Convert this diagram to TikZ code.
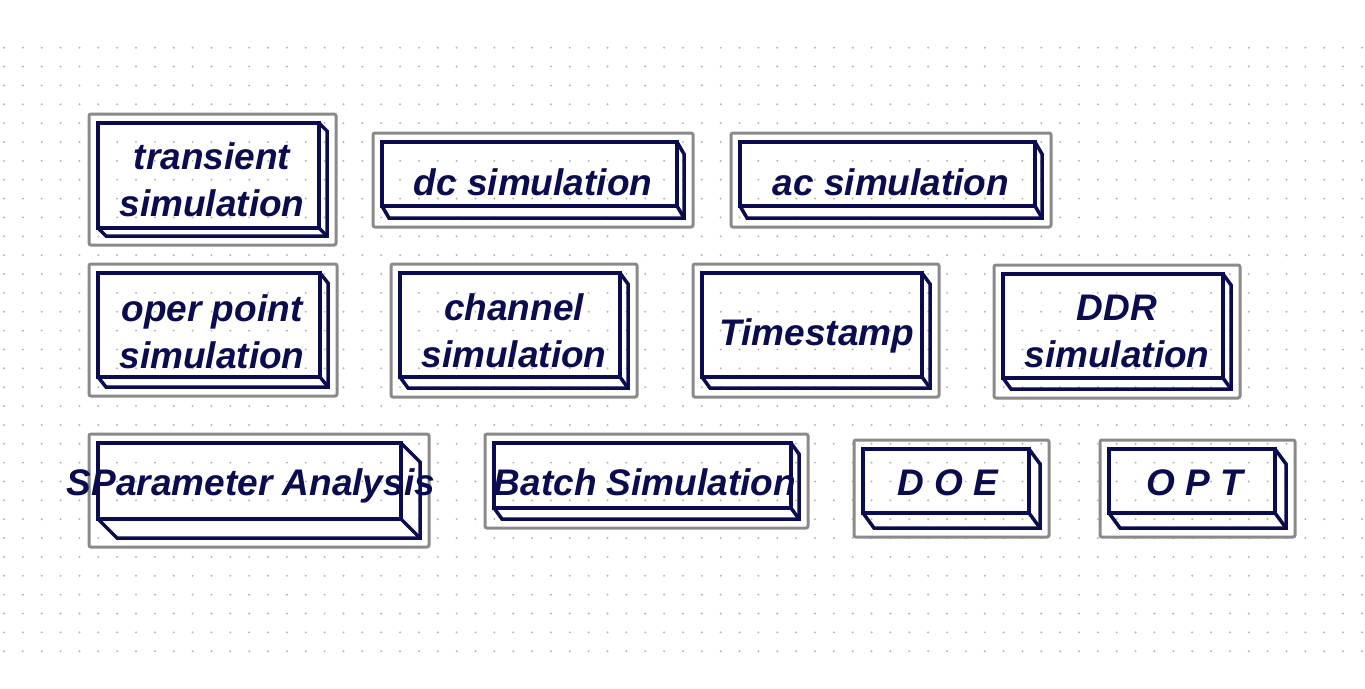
\documentclass[tikz,border=0pt]{standalone}
\usepackage{fontspec}
\setmainfont{Liberation Sans}
\usepackage{tikz}
\usetikzlibrary{calc,fit}
\definecolor{navy}{HTML}{0B0B4F}
\definecolor{framegrey}{HTML}{8A8A8A}
\definecolor{dotgrey}{HTML}{B4B4B4}

\begin{document}
\begin{tikzpicture}[
  x=1pt,y=-1pt,
  facebox/.style={draw=navy,line width=3.5pt,inner sep=0pt,outer sep=0pt},
  edgeline/.style={navy,line width=3.5pt},
  greyframe/.style={draw=framegrey,line width=3pt,rounded corners=2pt,inner sep=9pt},
  simlabel/.style={text=navy,anchor=base,align=center,inner sep=0pt,
                   font=\fontsize{37}{47}\selectfont\bfseries\itshape}
]
  \useasboundingbox[fill=white] (0,0) rectangle (1365,688);
  % dot grid
  \foreach \i in {0,...,72}
    \foreach \j in {0,...,32}
      \fill[dotgrey] (4+18.86*\i,47.7+18.86*\j) circle (1.1);
  % boxes: name/cx/cy/width/height/dx/dy
  \foreach \nm/\cx/\cy/\w/\h/\dx/\dy in {
      tran/208.5/175.5/221/105/8/8,
      dc/529.5/174/295/64/7/12,
      ac/887.5/174/295/64/7/12,
      oper/209/325/222/104/8/10,
      chan/510/325/220/104/8/11,
      time/812/325/220/104/8/11,
      ddr/1113/326/220/104/8/11,
      spar/249.5/481/303/76/19/19,
      batch/642.5/475.5/297/65/8/11,
      doe/946/481/166/64/11/15,
      opt/1192/481/166/64/11/15} {
    \node[facebox,minimum width=\w pt,minimum height=\h pt] (f-\nm) at (\cx,\cy) {};
    \coordinate (b-\nm) at ([shift={(\dx,\dy)}]f-\nm.south east);
    \draw[edgeline] (f-\nm.north east) -- ++(\dx,\dy) -- (b-\nm)
      -- ([shift={(\dx,\dy)}]f-\nm.south west) -- (f-\nm.south west);
    \draw[edgeline] (f-\nm.south east) -- (b-\nm);
    \node[greyframe,fit=(f-\nm) (b-\nm)] (g-\nm) {};
  }
  % labels (two-line labels sit on their last baseline)
  \node[simlabel] (t-tran) at (212,216) {transient\\simulation};
  \node[simlabel] (t-dc) at (533,195) {dc simulation};
  \node[simlabel] (t-ac) at (891,195) {ac simulation};
  \node[simlabel] (t-oper) at (212,368) {oper point\\simulation};
  \node[simlabel] (t-chan) at (514,367) {channel\\simulation};
  \node[simlabel] (t-time) at (817,345) {Timestamp};
  \node[simlabel] (t-ddr) at (1117,367) {DDR\\simulation};
  \node[simlabel] (t-spar) at (251,495) {SParameter Analysis};
  \node[simlabel] (t-batch) at (645,495) {Batch Simulation};
  \node[simlabel] (t-doe) at (948,495) {D O E};
  \node[simlabel] (t-opt) at (1195,495) {O P T};
\end{tikzpicture}
\end{document}
